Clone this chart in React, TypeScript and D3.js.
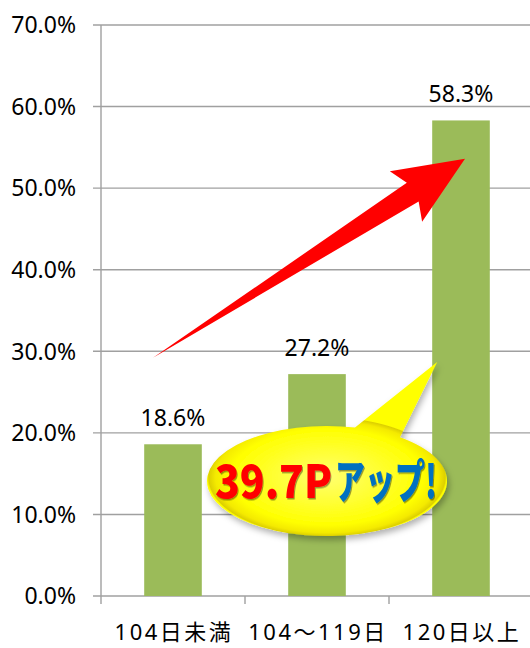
import React from "react";
import * as d3 from "d3";

const categories = ["104日未満", "104〜119日", "120日以上"];
const values = [18.6, 27.2, 58.3];
const yTicks = [0, 10, 20, 30, 40, 50, 60, 70];
const calloutRed = "39.7P";
const calloutBlue = "アップ!";

const W = 530;
const H = 648;
const left = 101;
const right = 533;
const top = 25;
const bottom = 596;

export default function App() {
  const x = d3.scaleBand<string>().domain(categories).range([left, right]).paddingInner(0.6).paddingOuter(0.3);
  const xb = d3.scaleBand<string>().domain(categories).range([left, right]);
  const y = d3.scaleLinear().domain([0, 70]).range([bottom, top]);
  const font = "'Noto Sans', 'Noto Sans CJK JP', sans-serif";
  const grid = "#a0a0a0";

  // arrow anchored to data positions
  const c1 = xb(categories[0])! + xb.bandwidth() / 2;
  const c3 = xb(categories[2])! + xb.bandwidth() / 2;
  const tail: [number, number] = [c1 - 20, y(29.2)];
  const tip: [number, number] = [c3 + 4, y(53.6)];
  const ang = Math.atan2(tip[1] - tail[1], tip[0] - tail[0]);
  const L = Math.hypot(tip[0] - tail[0], tip[1] - tail[1]);
  const pt = (along: number, perp: number): [number, number] => [
    tail[0] + Math.cos(ang) * along - Math.sin(ang) * perp,
    tail[1] + Math.sin(ang) * along + Math.cos(ang) * perp,
  ];
  const headLen = 70;
  const arrowPts = [
    tail,
    pt(L - headLen + 8, -11),
    pt(L - headLen, -30),
    tip,
    pt(L - headLen, 30),
    pt(L - headLen + 8, 11),
  ];
  const arrowPath = d3.line()(arrowPts as [number, number][])! + "Z";

  // callout bubble
  const c2 = xb(categories[1])! + xb.bandwidth() / 2;
  const cx = c2 + 10;
  const cy = y(14.1);
  const rx = 120;
  const ry = 55;
  const onE = (px: number): [number, number] => {
    const dx = px - cx;
    return [px, cy - ry * Math.sqrt(1 - (dx / rx) ** 2)];
  };
  const A = onE(cx + 28);
  const B = onE(cx + 73);
  const bubbleTip: [number, number] = [x(categories[2])! + 5, y(28.7)];
  const bubblePath = `M${A[0]},${A[1]} L${bubbleTip[0]},${bubbleTip[1]} L${B[0]},${B[1]} A${rx},${ry} 0 1 1 ${A[0]},${A[1]} Z`;

  return (
    <svg width={W} height={H} style={{ position: "absolute", left: 0, top: 0, background: "#fff" }}>
      <defs>
        <radialGradient
          id="yg"
          gradientUnits="userSpaceOnUse"
          cx={cx}
          cy={cy - 8}
          r={rx}
          gradientTransform={`translate(${cx},${cy}) scale(1,0.5) translate(${-cx},${-cy})`}
        >
          <stop offset="0" stopColor="#ffff70" />
          <stop offset="0.8" stopColor="#ffff00" />
          <stop offset="0.93" stopColor="#f4ea00" />
          <stop offset="0.985" stopColor="#ddd000" />
          <stop offset="1" stopColor="#ffff00" />
        </radialGradient>
        <filter id="sh" x="-20%" y="-20%" width="140%" height="150%">
          <feDropShadow dx="2" dy="4" stdDeviation="3" floodColor="#000" floodOpacity="0.3" />
        </filter>
        <filter id="tsh" x="-10%" y="-10%" width="120%" height="130%">
          <feDropShadow dx="1" dy="1.5" stdDeviation="0.7" floodColor="#000" floodOpacity="0.4" />
        </filter>
      </defs>

      {/* gridlines */}
      {yTicks.map((t) => (
        <g key={t}>
          <line x1={left - 8} x2={W} y1={y(t)} y2={y(t)} stroke={grid} strokeWidth={1.4} />
          <text x={76} y={y(t)} dy="0.36em" textAnchor="end" fontFamily={font} fontSize={23} fill="#000">
            {t.toFixed(1)}%
          </text>
        </g>
      ))}
      {/* y axis */}
      <line x1={left} x2={left} y1={top} y2={bottom + 8} stroke={grid} strokeWidth={1.4} />
      {/* x ticks */}
      {categories.map((c) => (
        <line key={c} x1={xb(c)! + xb.bandwidth()} x2={xb(c)! + xb.bandwidth()} y1={bottom} y2={bottom + 8} stroke={grid} strokeWidth={1.4} />
      ))}

      {/* bars */}
      {categories.map((c, i) => (
        <g key={c}>
          <rect x={x(c)} y={y(values[i])} width={x.bandwidth()} height={bottom - y(values[i])} fill="#9bbb59" />
          <text
            x={x(c)! + x.bandwidth() / 2}
            y={y(values[i]) - 18}
            textAnchor="middle"
            fontFamily={font}
            fontSize={23}
            fill="#000"
          >
            {values[i].toFixed(1)}%
          </text>
          <text
            x={xb(c)! + xb.bandwidth() / 2 + 1}
            y={640}
            textAnchor="middle"
            fontFamily={font}
            fontSize={22}
            letterSpacing={2.5}
            fill="#000"
          >
            {c}
          </text>
        </g>
      ))}

      {/* arrow */}
      <path d={arrowPath} fill="#ff0000" />

      {/* callout */}
      <path d={bubblePath} fill="url(#yg)" filter="url(#sh)" />
      <text
        x={cx - 112}
        y={cy + 17}
        fontFamily="'Noto Sans CJK JP', 'Noto Sans', sans-serif"
        fontWeight={900}
        fontSize={46}
        filter="url(#tsh)"
      >
        <tspan fill="#ff0000" textLength={117} lengthAdjust="spacingAndGlyphs">{calloutRed}</tspan>
        <tspan fill="#0070c0" dx={3} textLength={102} lengthAdjust="spacingAndGlyphs">{calloutBlue}</tspan>
      </text>
    </svg>
  );
}
